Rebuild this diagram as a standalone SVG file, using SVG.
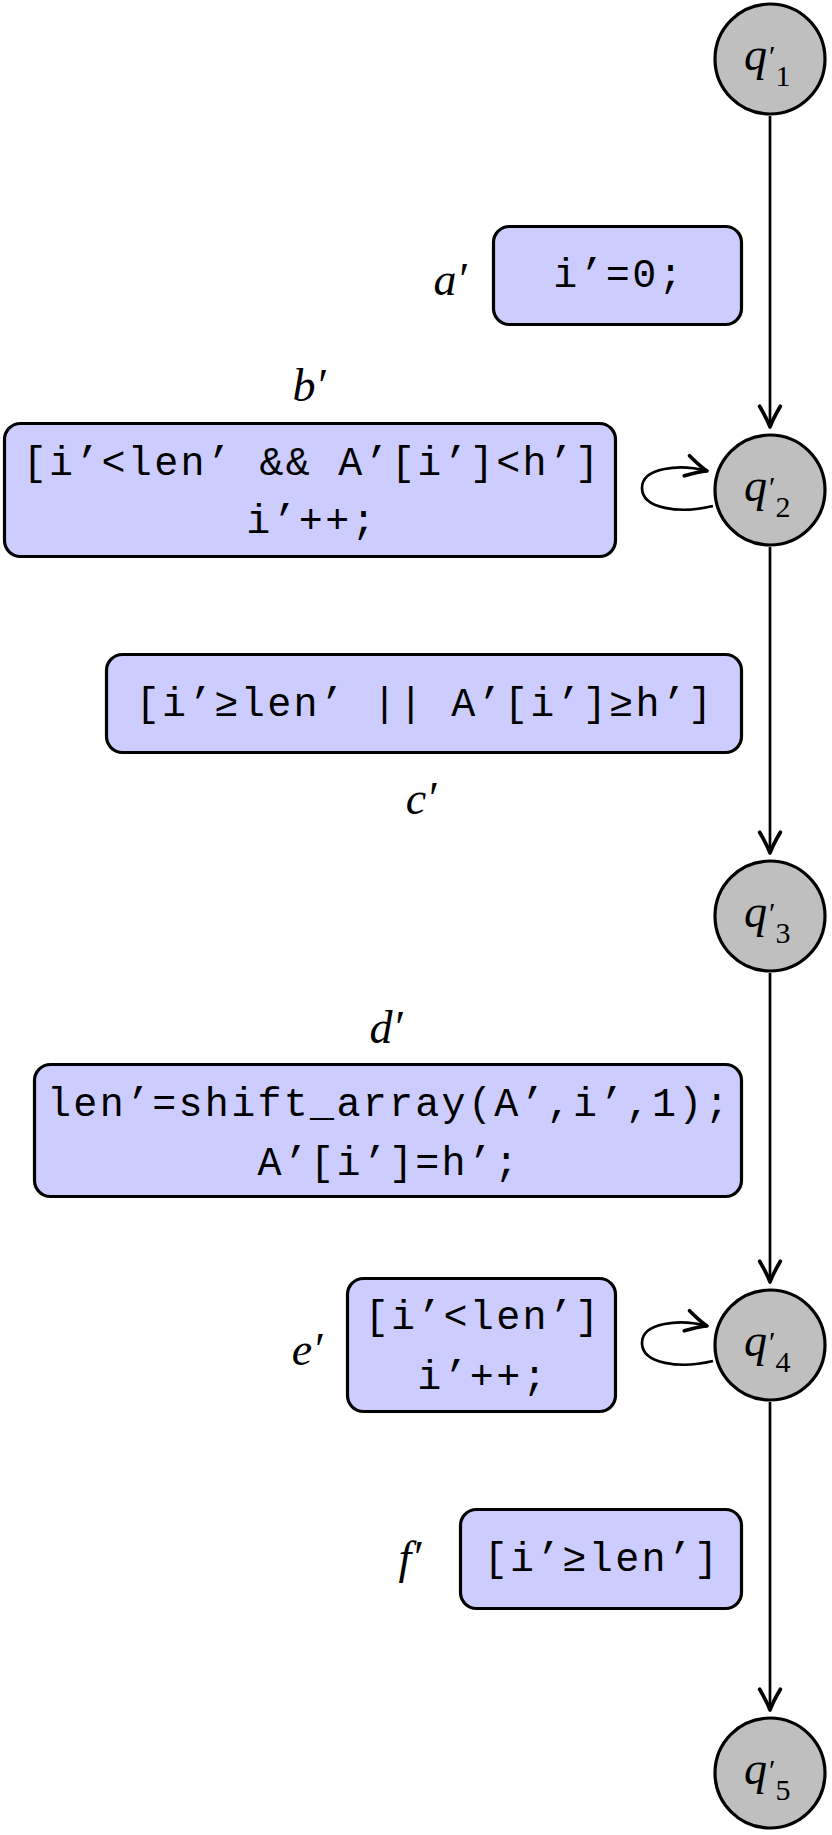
<svg xmlns="http://www.w3.org/2000/svg" width="832" height="1835" viewBox="0 0 832 1835">
<style>
.state{fill:#bfbfbf;stroke:#000;stroke-width:3.2}
.box{fill:#ccccff;stroke:#000;stroke-width:3.2}
.code{font-family:"Liberation Mono",monospace;font-size:40px;letter-spacing:2.3px;text-anchor:middle;fill:#000}
.lbl{font-family:"Liberation Serif",serif;font-style:italic;font-size:46px;text-anchor:middle;fill:#000}
.q{font-family:"Liberation Serif",serif;font-style:italic;font-size:46px;fill:#000}
.pr{font-style:normal;font-size:30px}
.sub{font-style:normal;font-size:30px}
.edge{fill:none;stroke:#000;stroke-width:2.7}
</style>
<defs>
<marker id="arr" markerUnits="userSpaceOnUse" markerWidth="30" markerHeight="30" viewBox="-22 -12 26 24" refX="0" refY="0" orient="auto" overflow="visible">
<path d="M -18 -9 Q -7 -2.5 0 0 Q -7 2.5 -18 9" fill="none" stroke="#000" stroke-width="3.2" stroke-linecap="round" stroke-linejoin="round"/>
</marker>
</defs>
<rect width="832" height="1835" fill="#fff"/>
<g id="connectors">
<path class="edge" d="M 770 116 L 770 427" marker-end="url(#arr)"/>
<path class="edge" d="M 713 506 C 680 514 642 509 642 488 C 642 467 680 464 707 471" marker-end="url(#arr)"/>
<path class="edge" d="M 770 547 L 770 853" marker-end="url(#arr)"/>
<path class="edge" d="M 770 973 L 770 1282" marker-end="url(#arr)"/>
<path class="edge" d="M 713 1361 C 680 1369 642 1364 642 1343 C 642 1322 680 1319 707 1326" marker-end="url(#arr)"/>
<path class="edge" d="M 770 1402 L 770 1710" marker-end="url(#arr)"/>
</g>
<g id="q1">
<circle class="state" cx="770" cy="59" r="55"/>
<text class="q" x="744" y="70">q<tspan class="pr" dx="2" dy="-4">′</tspan><tspan class="sub" dy="20">1</tspan></text>
</g>
<g id="q2">
<circle class="state" cx="770" cy="490" r="55"/>
<text class="q" x="744" y="501">q<tspan class="pr" dx="2" dy="-4">′</tspan><tspan class="sub" dy="20">2</tspan></text>
</g>
<g id="q3">
<circle class="state" cx="770" cy="916" r="55"/>
<text class="q" x="744" y="927">q<tspan class="pr" dx="2" dy="-4">′</tspan><tspan class="sub" dy="20">3</tspan></text>
</g>
<g id="q4">
<circle class="state" cx="770" cy="1345" r="55"/>
<text class="q" x="744" y="1356">q<tspan class="pr" dx="2" dy="-4">′</tspan><tspan class="sub" dy="20">4</tspan></text>
</g>
<g id="q5">
<circle class="state" cx="770" cy="1773" r="55"/>
<text class="q" x="744" y="1784">q<tspan class="pr" dx="2" dy="-4">′</tspan><tspan class="sub" dy="20">5</tspan></text>
</g>
<g id="edge-a">
<text class="lbl" x="450" y="295">a′</text>
<rect class="box" x="493.5" y="226.5" width="248" height="98" rx="16"/>
<text class="code" x="619" y="287">i’=0;</text>
</g>
<g id="edge-b">
<text class="lbl" x="309" y="401">b′</text>
<rect class="box" x="4.5" y="423.5" width="611" height="133" rx="16"/>
<text class="code" x="312" y="475">[i’&lt;len’ &amp;&amp; A’[i’]&lt;h’]</text>
<text class="code" x="312" y="533">i’++;</text>
</g>
<g id="edge-c">
<rect class="box" x="106.5" y="654.5" width="635" height="98" rx="16"/>
<text class="code" x="425" y="716">[i’≥len’ || A’[i’]≥h’]</text>
<text class="lbl" x="421" y="814">c′</text>
</g>
<g id="edge-d">
<text class="lbl" x="386" y="1043">d′</text>
<rect class="box" x="34.5" y="1064.5" width="707" height="132" rx="16"/>
<text class="code" x="389" y="1116">len’=shift_array(A’,i’,1);</text>
<text class="code" x="389" y="1175">A’[i’]=h’;</text>
</g>
<g id="edge-e">
<text class="lbl" x="307" y="1365">e′</text>
<rect class="box" x="347.5" y="1278.5" width="268" height="133" rx="16"/>
<text class="code" x="483" y="1329">[i’&lt;len’]</text>
<text class="code" x="483" y="1389">i’++;</text>
</g>
<g id="edge-f">
<text class="lbl" x="410" y="1573">f′</text>
<rect class="box" x="460.5" y="1509.5" width="281" height="99" rx="16"/>
<text class="code" x="602" y="1571">[i’≥len’]</text>
</g>
</svg>
